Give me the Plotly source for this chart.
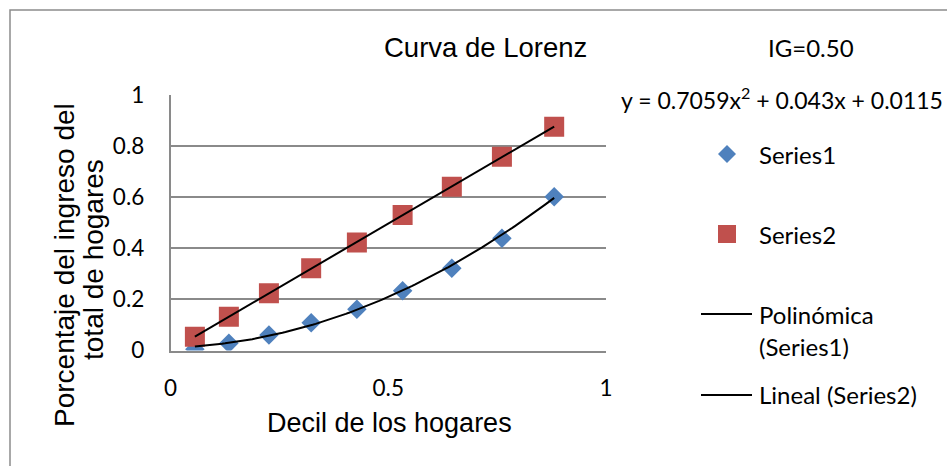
import numpy as np
import plotly.graph_objects as go

# Household deciles (cumulative share of households)
deciles = [0.056, 0.134, 0.226, 0.323, 0.428, 0.533, 0.646, 0.761, 0.881]
# Series1: cumulative share of income (Lorenz curve)
series1 = [0.005, 0.028, 0.061, 0.109, 0.161, 0.234, 0.322, 0.439, 0.602]
# Series2: line of equality
series2 = [0.054, 0.132, 0.224, 0.322, 0.423, 0.530, 0.641, 0.758, 0.876]

# Polynomial trendline of Series1 (2nd order): a*x^2 + b*x + c
poly_coef = [0.7059, 0.043, 0.0115]
gini_label = "IG=0.50"

y_ticks = [0, 0.2, 0.4, 0.6, 0.8, 1]
x_ticks = [0, 0.5, 1]

W, H = 947, 466
BLUE = "#4F81BD"
RED = "#C0504D"
GRID = "#8A8A8A"
ARIAL = "Liberation Sans, Arial, sans-serif"
CALIBRI = "Lato, Carlito, Calibri, sans-serif"


def px(x):
    return x / W


def py(y):
    return 1 - y / H


# Trendlines
xs_poly = np.linspace(deciles[0], deciles[-1], 120)
ys_poly = np.polyval(poly_coef, xs_poly)
lin = np.polyfit(deciles, series2, 1)
xs_lin = np.array([deciles[0], deciles[-1]])
ys_lin = np.polyval(lin, xs_lin)

fig = go.Figure()
fig.add_trace(go.Scatter(
    x=deciles, y=series1, mode="markers", name="Series1",
    marker=dict(symbol="diamond", size=15, color=BLUE, line=dict(width=0)),
))
fig.add_trace(go.Scatter(
    x=deciles, y=series2, mode="markers", name="Series2",
    marker=dict(symbol="square", size=20, color=RED, line=dict(width=0)),
))
fig.add_trace(go.Scatter(
    x=xs_poly, y=ys_poly, mode="lines", name="Polinómica (Series1)",
    line=dict(color="black", width=2),
))
fig.add_trace(go.Scatter(
    x=xs_lin, y=ys_lin, mode="lines", name="Lineal (Series2)",
    line=dict(color="black", width=2),
))

fig.update_layout(
    width=W, height=H,
    margin=dict(l=0, r=0, t=0, b=0, autoexpand=False),
    paper_bgcolor="white",
    plot_bgcolor="white",
    showlegend=False,
    xaxis=dict(
        domain=[170.5 / W, 606 / W], automargin=False,
        range=[0, 1], tickvals=x_ticks, ticktext=[f"{v:g}" for v in x_ticks],
        showgrid=False, zeroline=False,
        showline=True, linecolor=GRID, linewidth=1.5,
        ticks="", ticklabelstandoff=17,
        tickfont=dict(family=CALIBRI, size=22.5, color="black"),
    ),
    yaxis=dict(
        domain=[1 - 350.5 / H, 1 - 95 / H], automargin=False,
        range=[0, 1], tickvals=y_ticks, ticktext=[f"{v:g}" for v in y_ticks],
        showgrid=True, gridcolor=GRID, gridwidth=1.5, zeroline=False,
        showline=True, linecolor=GRID, linewidth=1.5,
        ticks="", ticklabelstandoff=20,
        tickfont=dict(family=CALIBRI, size=22.5, color="black"),
    ),
)

annotations = [
    dict(text="Curva de Lorenz", x=px(485), y=py(47),
         font=dict(family=ARIAL, size=27.5, color="black")),
    dict(text=gini_label, x=px(811), y=py(48),
         font=dict(family=CALIBRI, size=24, color="black")),
    dict(text="y = {:.4f}x<sup>2</sup> + {:.3f}x + {:.4f}".format(*poly_coef),
         x=px(619), y=py(99), xanchor="left",
         font=dict(family=CALIBRI, size=23, color="black")),
    dict(text="Decil de los hogares", x=px(389), y=py(423),
         font=dict(family=ARIAL, size=27, color="black")),
    dict(text="Porcentaje del ingreso del", x=px(64), y=py(265), textangle=-90,
         font=dict(family=ARIAL, size=28, color="black")),
    dict(text="total de hogares", x=px(93), y=py(260), textangle=-90,
         font=dict(family=ARIAL, size=28, color="black")),
    # legend labels
    dict(text="Series1", x=px(757), y=py(154), xanchor="left",
         font=dict(family=CALIBRI, size=24, color="black")),
    dict(text="Series2", x=px(757), y=py(234), xanchor="left",
         font=dict(family=CALIBRI, size=24, color="black")),
    dict(text="Polinómica", x=px(757), y=py(314), xanchor="left",
         font=dict(family=CALIBRI, size=24, color="black")),
    dict(text="(Series1)", x=px(757), y=py(346), xanchor="left",
         font=dict(family=CALIBRI, size=24, color="black")),
    dict(text="Lineal (Series2)", x=px(757), y=py(394), xanchor="left",
         font=dict(family=CALIBRI, size=24, color="black")),
]
for a in annotations:
    a.setdefault("xanchor", "center")
    a.update(xref="paper", yref="paper", yanchor="middle", showarrow=False)
fig.update_layout(annotations=annotations)

shapes = [
    # chart border
    dict(type="rect", xref="paper", yref="paper",
         x0=px(10), y0=py(490), x1=px(980), y1=py(10),
         line=dict(color="#8C8C8C", width=1.5), fillcolor="rgba(0,0,0,0)"),
    # legend glyphs
    dict(type="path", xref="paper", yref="paper",
         xsizemode="pixel", ysizemode="pixel",
         xanchor=px(727), yanchor=py(154),
         path="M0,9 L9,0 L0,-9 L-9,0 Z", fillcolor=BLUE, line=dict(width=0)),
    dict(type="rect", xref="paper", yref="paper",
         xsizemode="pixel", ysizemode="pixel",
         xanchor=px(727), yanchor=py(234),
         x0=-9, x1=9, y0=-9, y1=9, fillcolor=RED, line=dict(width=0)),
    dict(type="line", xref="paper", yref="paper",
         x0=px(701), x1=px(752), y0=py(314), y1=py(314),
         line=dict(color="black", width=2)),
    dict(type="line", xref="paper", yref="paper",
         x0=px(701), x1=px(752), y0=py(395), y1=py(395),
         line=dict(color="black", width=2)),
]
fig.update_layout(shapes=shapes)

fig.write_html("out.html", post_script="document.body.style.margin='0';")
